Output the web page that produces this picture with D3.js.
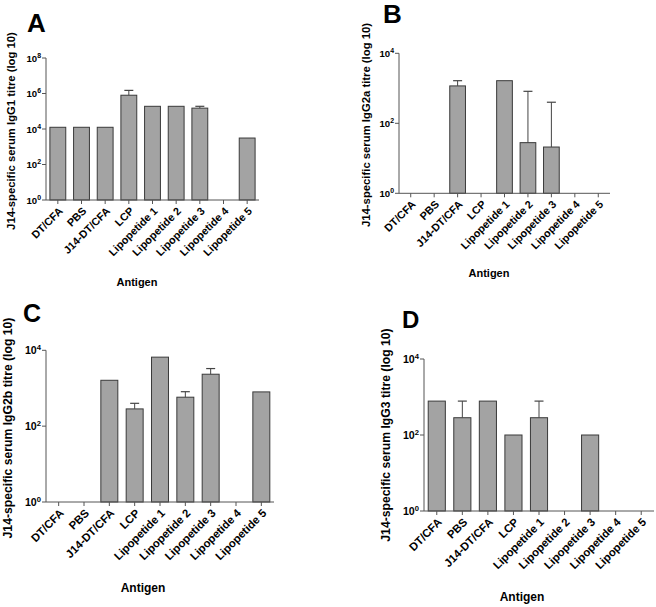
<!DOCTYPE html>
<html>
<head>
<meta charset="utf-8">
<script src="https://cdn.jsdelivr.net/npm/d3@7"></script>
<style>
  html, body { margin: 0; padding: 0; background: #fff; }
  svg { display: block; }
  text { font-family: "Liberation Sans", Arial, sans-serif; font-weight: bold; fill: #000; }
</style>
</head>
<body>
<svg id="chart" width="656" height="607"></svg>
<script>
// ---------- data ----------
const categories = ["DT/CFA", "PBS", "J14-DT/CFA", "LCP", "Lipopetide 1", "Lipopetide 2", "Lipopetide 3", "Lipopetide 4", "Lipopetide 5"];
const igg1Mean  = [12500, 12500, 12500, 800000, 190000, 190000, 150000, null, 3100];
const igg1Err   = [null, null, null, 1500000, null, null, 190000, null, null];
const igg2aMean = [null, null, 1170, null, 1650, 28, 21, null, null];
const igg2aErr  = [null, null, 1650, null, null, 820, 400, null, null];
const igg2bMean = [null, null, 1620, 285, 6600, 580, 2340, null, 800];
const igg2bErr  = [null, null, null, 400, null, 810, 3300, null, null];
const igg3Mean  = [780, 285, 780, 100, 285, null, 100, null, null];
const igg3Err   = [null, 780, null, null, 780, null, null, null, null];
const tickExpA = [0, 2, 4, 6, 8];
const tickExpBCD = [0, 2, 4];
const panelLetters = ["A", "B", "C", "D"];
const yTitles = [
  "J14-specific serum IgG1 titre (log 10)",
  "J14-specific serum IgG2a titre (log 10)",
  "J14-specific serum IgG2b titre (log 10)",
  "J14-specific serum IgG3 titre (log 10)"
];
const xTitle = "Antigen";

// ---------- layout ----------
const panels = [
  { mean: igg1Mean, err: igg1Err, ticks: tickExpA, x0: 46, x1: 259, yTop: 58, yBot: 200,
    letter: { x: 27, y: 32, size: 26 }, title: { x: 11, y: 131, size: 11.3 },
    xt: { x: 137, y: 286, size: 11 }, xl: 10.8, tl: 9.6 },
  { mean: igg2aMean, err: igg2aErr, ticks: tickExpBCD, x0: 399, x1: 610, yTop: 53.3, yBot: 193.3,
    letter: { x: 383, y: 23, size: 26 }, title: { x: 366, y: 125, size: 11.3 },
    xt: { x: 489, y: 277, size: 11 }, xl: 10.8, tl: 9.6 },
  { mean: igg2bMean, err: igg2bErr, ticks: tickExpBCD, x0: 46, x1: 274, yTop: 350.3, yBot: 502,
    letter: { x: 23, y: 322, size: 25 }, title: { x: 8, y: 428, size: 12.2 },
    xt: { x: 143, y: 592, size: 12 }, xl: 11.3, tl: 10.6 },
  { mean: igg3Mean, err: igg3Err, ticks: tickExpBCD, x0: 424, x1: 654, yTop: 359, yBot: 511,
    letter: { x: 402, y: 328, size: 24 }, title: { x: 386, y: 435, size: 12.2 },
    xt: { x: 522, y: 601, size: 12 }, xl: 11.3, tl: 10.6 }
];

const svg = d3.select("#chart");
const axisColor = "#555";

panels.forEach((p, pi) => {
  const g = svg.append("g");
  const maxExp = d3.max(p.ticks);
  const y = d3.scaleLog().domain([1, Math.pow(10, maxExp)]).range([p.yBot, p.yTop]);
  const x = d3.scaleBand().domain(categories).range([p.x0, p.x1]).paddingInner(0.33).paddingOuter(0.165);

  // bars
  categories.forEach((c, i) => {
    const v = p.mean[i];
    if (v == null) return;
    g.append("rect")
      .attr("x", x(c)).attr("y", y(v))
      .attr("width", x.bandwidth()).attr("height", y(1) - y(v))
      .attr("fill", "#a3a3a3").attr("stroke", "#3a3a3a").attr("stroke-width", 1);
  });
  // error bars
  categories.forEach((c, i) => {
    const v = p.mean[i], e = p.err[i];
    if (v == null || e == null) return;
    const cx = x(c) + x.bandwidth() / 2;
    g.append("line").attr("x1", cx).attr("x2", cx).attr("y1", y(v)).attr("y2", y(e))
      .attr("stroke", "#444").attr("stroke-width", 1);
    g.append("line").attr("x1", cx - 4.5).attr("x2", cx + 4.5).attr("y1", y(e)).attr("y2", y(e))
      .attr("stroke", "#444").attr("stroke-width", 1.2);
  });

  // y axis
  g.append("line").attr("x1", p.x0).attr("x2", p.x0).attr("y1", p.yTop).attr("y2", p.yBot)
    .attr("stroke", axisColor).attr("stroke-width", 1);
  p.ticks.forEach(ex => {
    const ty = y(Math.pow(10, ex));
    g.append("line").attr("x1", p.x0 - 4).attr("x2", p.x0).attr("y1", ty).attr("y2", ty)
      .attr("stroke", axisColor).attr("stroke-width", 1);
    const t = g.append("text").attr("x", p.x0 - 5).attr("y", ty + p.tl * 0.38)
      .attr("text-anchor", "end").attr("font-size", p.tl);
    t.append("tspan").text("10");
    t.append("tspan").attr("dy", -p.tl * 0.42).attr("font-size", p.tl * 0.72).text(String(ex));
  });

  // x axis
  g.append("line").attr("x1", p.x0).attr("x2", p.x1).attr("y1", p.yBot).attr("y2", p.yBot)
    .attr("stroke", axisColor).attr("stroke-width", 1);
  categories.forEach(c => {
    const cx = x(c) + x.bandwidth() / 2;
    g.append("line").attr("x1", cx).attr("x2", cx).attr("y1", p.yBot).attr("y2", p.yBot + 4)
      .attr("stroke", axisColor).attr("stroke-width", 1);
    g.append("text")
      .attr("transform", `translate(${cx + 3},${p.yBot + 9}) rotate(-45)`)
      .attr("text-anchor", "end").attr("dy", "0.35em")
      .attr("font-size", p.xl).text(c);
  });

  // titles
  g.append("text").attr("x", p.letter.x).attr("y", p.letter.y)
    .attr("font-size", p.letter.size).text(panelLetters[pi]);
  g.append("text")
    .attr("transform", `translate(${p.title.x},${p.title.y}) rotate(-90)`)
    .attr("text-anchor", "middle").attr("dy", "0.35em")
    .attr("font-size", p.title.size).text(yTitles[pi]);
  g.append("text").attr("x", p.xt.x).attr("y", p.xt.y)
    .attr("text-anchor", "middle").attr("font-size", p.xt.size).text(xTitle);
});
</script>
</body>
</html>
